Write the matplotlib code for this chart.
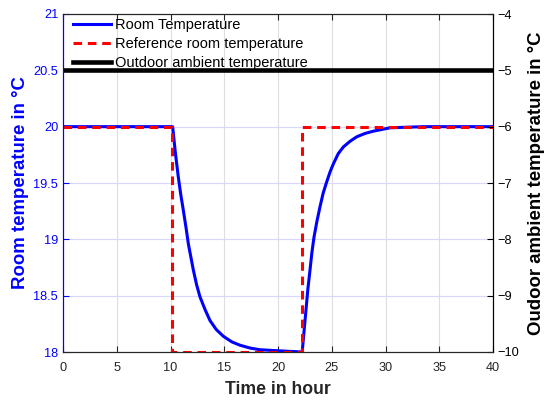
import matplotlib
matplotlib.use("Agg")
import matplotlib.pyplot as plt

plt.rcParams['font.family'] = ['Liberation Sans', 'DejaVu Sans']

# room temperature (left axis)
room_t = [0, 10.2, 10.45, 10.73, 10.95, 11.19, 11.45, 11.66, 11.9, 12.12, 12.42,
          12.74, 13.2, 13.67, 14.25, 14.91, 15.7, 16.47, 17.4, 18.33, 20.19, 22.25,
          22.42, 22.6, 22.78, 22.98, 23.15, 23.35, 23.62, 23.91, 24.2, 24.53, 24.85,
          25.15, 25.6, 26.08, 26.7, 27.32, 28.1, 28.87, 30.42, 33.5, 40]
room_T = [20, 20, 19.77, 19.55, 19.4, 19.26, 19.1, 18.96, 18.84, 18.73, 18.6,
          18.49, 18.38, 18.28, 18.2, 18.14, 18.09, 18.06, 18.035, 18.02, 18.01, 18.0,
          18.18, 18.37, 18.56, 18.73, 18.88, 19.02, 19.16, 19.29, 19.41, 19.51, 19.6,
          19.67, 19.76, 19.82, 19.87, 19.91, 19.94, 19.96, 19.99, 20, 20]

# reference room temperature (step profile)
ref_t = [0, 10.17, 10.17, 22.2, 22.2, 40]
ref_T = [20, 20, 18, 18, 20, 20]

# outdoor ambient temperature (right axis)
out_t = [0, 40]
out_T = [-5, -5]

fig = plt.figure(figsize=(5.45, 4), dpi=100)
ax = fig.add_axes([63 / 545, 48 / 400, 430 / 545, 338 / 400])
ax2 = ax.twinx()

l1, = ax.plot(room_t, room_T, color='blue', lw=2.2, label='Room Temperature')
l2, = ax.plot(ref_t, ref_T, color='red', lw=2.2, ls=(0, (2.8, 1.9)),
              label='Reference room temperature')
l3, = ax2.plot(out_t, out_T, color='black', lw=3.3, label='Outdoor ambient temperature')

ax.set_xlim(0, 40)
ax.set_ylim(18, 21)
ax2.set_ylim(-10, -4)
ax.set_xticks(range(0, 41, 5))
ax.set_yticks([18, 18.5, 19, 19.5, 20, 20.5, 21])
ax.set_yticklabels(['18', '18.5', '19', '19.5', '20', '20.5', '21'])
ax2.set_yticks(range(-10, -3))

ax.set_axisbelow(True)
ax.xaxis.grid(True, color='#dedede', lw=0.8)
ax.yaxis.grid(True, color='#d8d8ff', lw=0.8)

ax.tick_params(axis='x', direction='in', top=True, colors='#262626', labelsize=9.2,
               length=4, pad=7)
ax.tick_params(axis='y', direction='in', colors='blue', labelsize=9.2, length=4)
ax2.tick_params(axis='y', direction='in', colors='black', labelsize=9.2, length=4)

for a in (ax, ax2):
    a.spines['left'].set_color('blue')
    a.spines['right'].set_color('black')
    a.spines['top'].set_color('#262626')
    a.spines['bottom'].set_color('#262626')

ax.set_xlabel('Time in hour', fontsize=12.7, fontweight='bold', color='#262626', labelpad=5)
ax.set_ylabel('Room temperature in °C', fontsize=13.4, fontweight='bold', color='blue',
              labelpad=3)
ax2.set_ylabel('Oudoor ambient temperature in °C', fontsize=13.4, fontweight='bold',
               color='black', labelpad=6)

ax2.legend(handles=[l1, l2, l3], loc='upper left', bbox_to_anchor=(0.012, 1.0),
           frameon=False, fontsize=10.5, borderaxespad=0, borderpad=0.3,
           handlelength=2.67, handletextpad=0.25, labelspacing=0.33)

fig.savefig('out.png', dpi=100)
